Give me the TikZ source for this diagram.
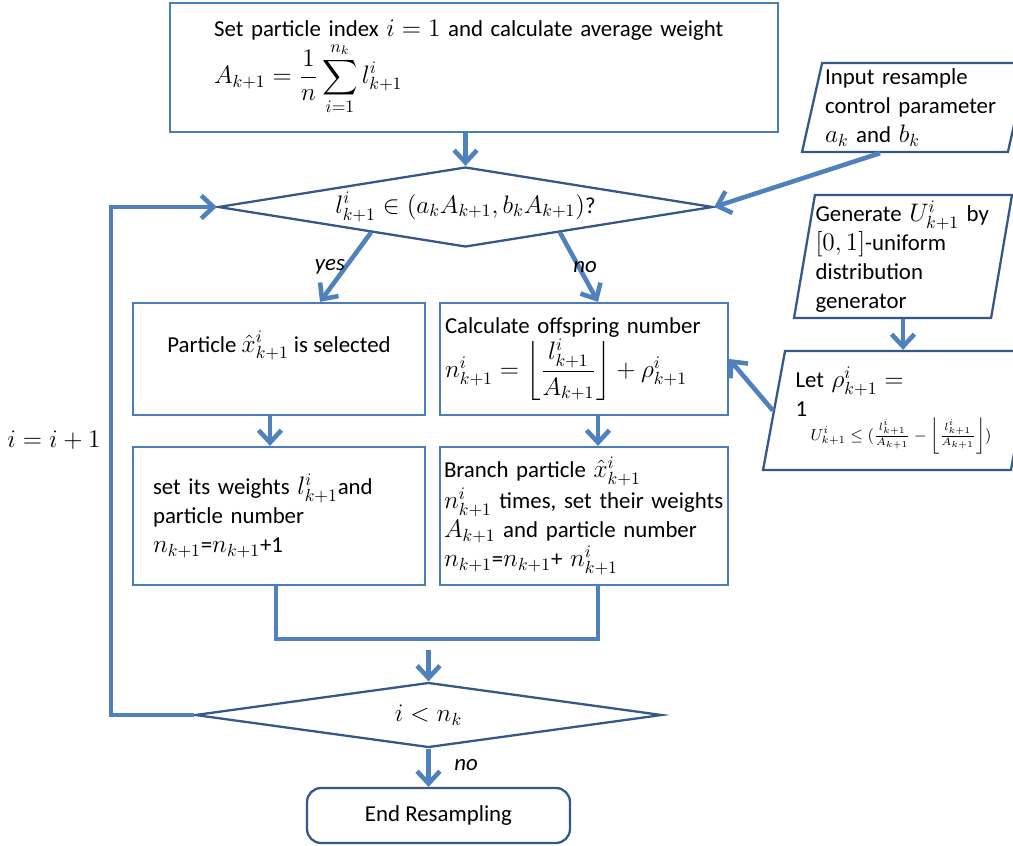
\documentclass[tikz,border=0pt]{standalone}
\usepackage{amsmath}
\usepackage{amssymb}
\usepackage{fontspec}
\setmainfont{Carlito}
\DeclareMathSizes{13}{14}{10}{7.5}
\usepackage{tikz}
\usetikzlibrary{positioning,arrows.meta,calc,shapes.geometric}

\definecolor{lineblue}{RGB}{79,129,189}
\definecolor{boxblue}{RGB}{74,126,187}
\definecolor{darkblue}{RGB}{52,88,135}

\tikzset{
  every node/.style={font=\fontsize{13}{16.5}\selectfont},
  box/.style={draw=boxblue, line width=1.3pt, rectangle, fill=white},
  decision/.style={diamond, draw=darkblue, line width=1.3pt, aspect=6, inner sep=0pt},
  io/.style={trapezium, trapezium stretches body, draw=darkblue, line width=1.3pt, inner sep=0pt, align=left},
  arr/.style={draw=lineblue, line width=2.6pt, -{Straight Barb[length=7pt,width=13pt]}},
  link/.style={draw=lineblue, line width=2.6pt},
  lbl/.style={font=\fontsize{13}{16.5}\selectfont\itshape},
}

\begin{document}
\begin{tikzpicture}[x=0.02cm,y=-0.02cm]
        \useasboundingbox (0,0) rectangle (1013,845);

        % main column
        \node[box, minimum width=12.16cm, minimum height=2.58cm, text width=10.4cm, align=left] (avg) at (474,67.5)
            {Set particle index $i=1$ and calculate average weight\\
             $\displaystyle A_{k+1}=\frac{1}{n}\sum_{i=1}^{n_k} l^i_{k+1}$};
        \node[decision, minimum width=9.9cm, minimum height=1.6cm] (test) at (465.5,207)
            {$l^i_{k+1}\in(a_kA_{k+1},b_kA_{k+1})$?};

        % inputs on the right
        \node[io, trapezium left angle=75.5, trapezium right angle=104.5, minimum width=4.52cm, minimum height=1.78cm, text width=3.6cm] (inp) at (915,107.5)
            {Input resample\\ control parameter\\ $a_k$ and $b_k$};
        \node[io, trapezium left angle=79.4, trapezium right angle=100.6, minimum width=4.36cm, minimum height=2.46cm, text width=3.5cm] (gen) at (903,256.5)
            {Generate $U^i_{k+1}$ by\\ $[0,1]$-uniform\\ distribution\\ generator};
        \node[io, trapezium left angle=75.9, trapezium right angle=104.1, minimum width=5.4cm, minimum height=2.38cm, text width=4.1cm] (let) at (898,410.5)
            {Let $\rho^i_{k+1}=$\\ 1\\[-3pt]
             \hspace*{0.3cm}{\fontsize{8.6}{10}\selectfont$U^i_{k+1}\le(\frac{l^i_{k+1}}{A_{k+1}}-\left\lfloor\frac{l^i_{k+1}}{A_{k+1}}\right\rfloor)$}};

        % branches
        \node[box, minimum width=5.84cm, minimum height=2.24cm, text height=0.45cm, text depth=0.73cm] (sel) at (279,359)
            {Particle $\hat{x}^i_{k+1}$ is selected};
        \node[box, minimum width=5.76cm, minimum height=2.24cm, inner xsep=0.1cm, text width=5.56cm, align=left] (calc) at (584,359)
            {Calculate offspring number\\
             $n^i_{k+1}=\left\lfloor\dfrac{l^i_{k+1}}{A_{k+1}}\right\rfloor+\rho^i_{k+1}$};
        \node[box, minimum width=5.84cm, minimum height=2.76cm, inner xsep=0.4cm, text width=5.04cm, align=left] (setw) at (279,516)
            {set its weights $l^i_{k+1}$and\\ particle number\\ $n_{k+1}$=$n_{k+1}$+1};
        \node[box, minimum width=5.76cm, minimum height=2.76cm, inner xsep=0.08cm, text width=5.6cm, align=left] (branch) at (584,516)
            {Branch particle $\hat{x}^i_{k+1}$\\ $n^i_{k+1}$ times, set their weights\\
             $A_{k+1}$ and particle number\\ $n_{k+1}$=$n_{k+1}$+ $n^i_{k+1}$};

        \node[decision, minimum width=9.34cm, minimum height=1.3cm] (more) at (428.5,715) {$i<n_k$};
        \node[box, draw=darkblue, rounded corners=8pt, minimum width=5.26cm, minimum height=1.1cm] (stop) at (438.5,815.5)
            {End Resampling};

        % connectors
        \draw[arr] (avg.south -| test.north) -- (test.north);
        \draw[arr] ([xshift=-0.7cm]inp.south) -- (test.east);
        \draw[arr] (gen.south) -- (gen.south |- let.north);
        \draw[arr] (let.west) -- (calc.east);
        \draw[arr] ($(test.south)!0.38!(test.west)$) -- ([xshift=0.82cm]sel.north);
        \draw[arr] ($(test.south)!0.38!(test.east)$) -- ([xshift=0.28cm]calc.north);
        \draw[arr] ([xshift=-0.18cm]sel.south) -- ([xshift=-0.18cm]setw.north);
        \draw[arr] ([xshift=0.28cm]calc.south) -- ([xshift=0.28cm]branch.north);
        \draw[link] ([xshift=-0.06cm]setw.south) -- ++(0,53) -| ([xshift=0.28cm]branch.south);
        \coordinate (join) at (428.5,650);
        \draw[arr] (join) -- (more.north);
        \draw[arr] (more.west) -- ++(-83,0) |- (test.west);
        \draw[arr] (more.south) -- (more.south |- stop.north);

        % labels
        \node[lbl] (yes) at (330,267) {yes};
        \node[lbl] (nobr) at (585,267) {no};
        \node[lbl] (noend) at (466,765) {no};
        \node (incr) at (54,440) {$i=i+1$};
\end{tikzpicture}
\end{document}
